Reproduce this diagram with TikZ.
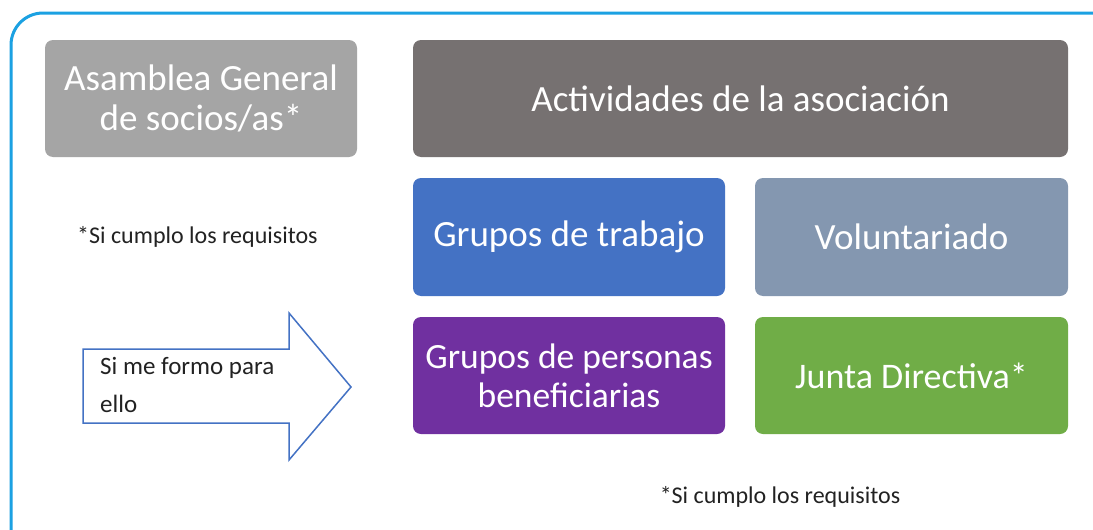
\documentclass[tikz,border=0pt]{standalone}
\usepackage{fontspec}
\setmainfont{Carlito}
\definecolor{frameblue}{HTML}{1BA1E2}
\definecolor{cgrey}{HTML}{A5A5A5}
\definecolor{cdark}{HTML}{767171}
\definecolor{cblue}{HTML}{4472C4}
\definecolor{cslate}{HTML}{8497B0}
\definecolor{cpurple}{HTML}{7030A0}
\definecolor{cgreen}{HTML}{70AD47}
\definecolor{ctext}{HTML}{222222}
\begin{document}
\begin{tikzpicture}[x=1pt,y=-1pt,
  box/.style={rounded corners=8pt,inner sep=0pt,text=white,align=center,
    font=\fontsize{37}{40}\selectfont},
  note/.style={text=ctext,inner sep=0pt,font=\fontsize{24}{28}\selectfont}]
\useasboundingbox (0,0) rectangle (1093,530);
\fill[white] (0,0) rectangle (1093,530);
% frame
\draw[frameblue,line width=3pt,rounded corners=32pt] (11,531) -- (11,13) -- (1094,13);
% boxes
\node[box,fill=cgrey,minimum width=312pt,minimum height=117pt] (asam) at (201,98.5) {Asamblea General\\de socios/as*};
\node[box,fill=cdark,minimum width=655pt,minimum height=117pt] (act) at (740.5,98.5) {Actividades de la asociación};
\node[box,fill=cblue,minimum width=312pt,minimum height=118pt] (gtra) at (569,237) {Grupos de trabajo};
\node[box,fill=cslate,minimum width=313pt,minimum height=118pt] (vol) at (911.5,237) {Voluntariado};
\node[box,fill=cpurple,minimum width=312pt,minimum height=117pt,font=\fontsize{35.5}{39}\selectfont] (gper) at (569,375.5) {Grupos de personas\\beneficiarias};
\node[box,fill=cgreen,minimum width=313pt,minimum height=117pt,font=\fontsize{36}{40}\selectfont] (junta) at (911.5,375.5) {Junta Directiva*};
% notes
\node[note,anchor=west] (req1) at (77,237) {*Si cumplo los requisitos};
\node[note] (req2) at (780,497) {*Si cumplo los requisitos};
% arrow
\draw[cblue,line width=1.5pt,line join=miter] (83,349) -- (289,349) -- (289,313) -- (351,387) -- (289,460) -- (289,423) -- (83,423) -- cycle;
\node[text=ctext,inner sep=0pt,anchor=north west,align=left,font=\fontsize{25}{38}\selectfont] (arrtxt) at (100,357) {Si me formo para\\ello};
\end{tikzpicture}
\end{document}
